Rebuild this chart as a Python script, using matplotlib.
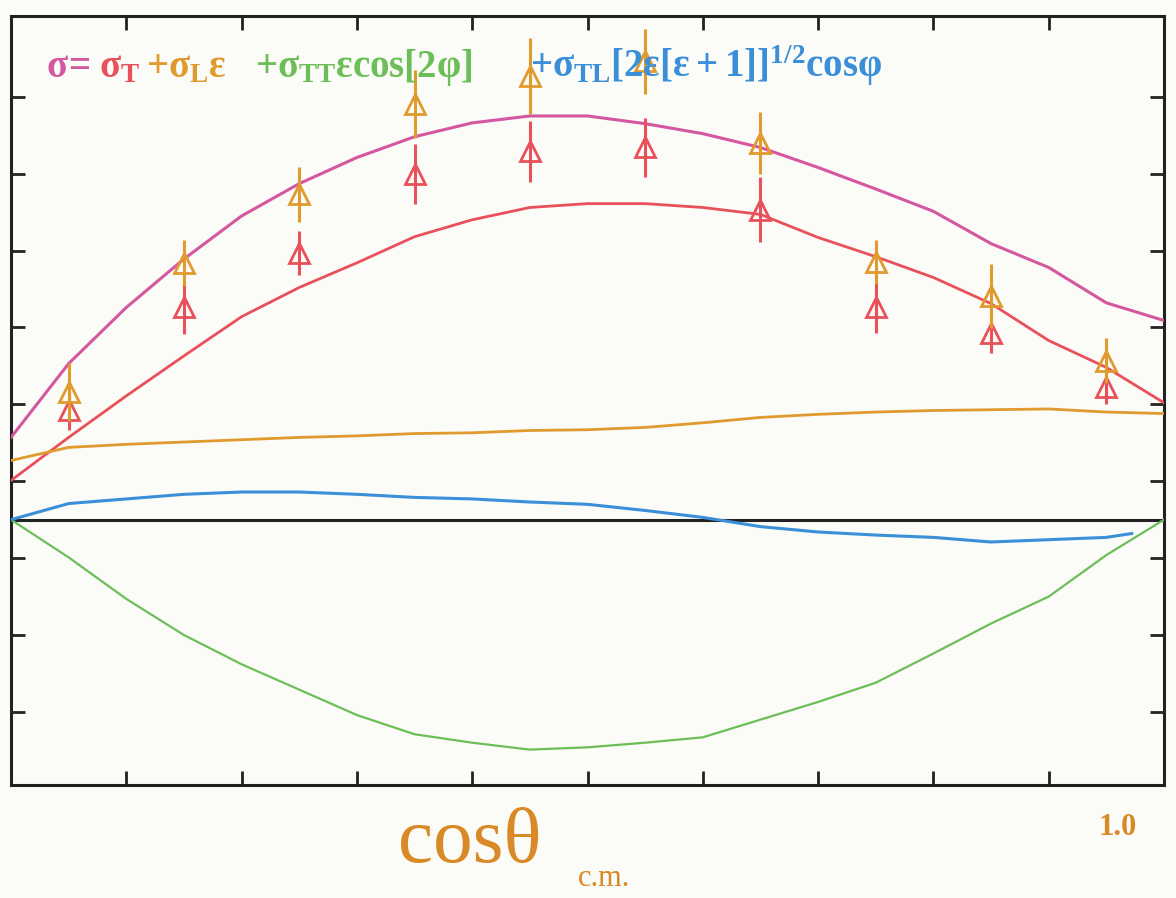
import numpy as np
import matplotlib.pyplot as plt

plt.rcParams['font.family'] = ['Liberation Serif', 'DejaVu Serif']
plt.rcParams['mathtext.fontset'] = 'custom'
plt.rcParams['mathtext.rm'] = 'Liberation Serif:bold'
plt.rcParams['mathtext.it'] = 'Liberation Serif:bold'
plt.rcParams['mathtext.bf'] = 'Liberation Serif:bold'

# model curves vs cos(theta_cm)
cos_grid = [-1.0, -0.9, -0.8, -0.7, -0.6, -0.5, -0.4, -0.3, -0.2, -0.1, 0.0,
            0.1, 0.2, 0.3, 0.4, 0.5, 0.6, 0.7, 0.8, 0.9, 1.0]
sig_total = [1.07, 2.03, 2.76, 3.39, 3.95, 4.37, 4.71, 4.98, 5.16, 5.25, 5.25,
             5.15, 5.02, 4.84, 4.58, 4.30, 4.01, 3.59, 3.28, 2.82, 2.59]
sig_T = [0.51, 1.07, 1.61, 2.13, 2.64, 3.02, 3.34, 3.68, 3.90, 4.06, 4.11,
         4.11, 4.06, 3.97, 3.67, 3.42, 3.15, 2.81, 2.33, 1.98, 1.52]
sig_L = [0.77, 0.94, 0.98, 1.01, 1.04, 1.07, 1.09, 1.12, 1.13, 1.16, 1.17,
         1.20, 1.26, 1.33, 1.37, 1.40, 1.42, 1.43, 1.44, 1.40, 1.38]
sig_TT = [0.0, -0.49, -1.03, -1.50, -1.88, -2.21, -2.54, -2.79, -2.90, -2.99, -2.96,
          -2.90, -2.83, -2.60, -2.37, -2.12, -1.74, -1.35, -1.00, -0.46, 0.0]
tl_x = [-1.0, -0.9, -0.8, -0.7, -0.6, -0.5, -0.4, -0.3, -0.2, -0.1, 0.0,
        0.1, 0.2, 0.3, 0.4, 0.5, 0.6, 0.7, 0.8, 0.9, 0.944]
sig_TL = [0.0, 0.21, 0.27, 0.33, 0.36, 0.36, 0.33, 0.29, 0.27, 0.23, 0.20,
          0.12, 0.03, -0.09, -0.16, -0.20, -0.23, -0.29, -0.26, -0.23, -0.18]

# measured points
pt_x = [-0.9, -0.7, -0.5, -0.3, -0.1, 0.1, 0.3, 0.5, 0.7, 0.9]
orange_y = [1.66, 3.34, 4.23, 5.41, 5.77, 5.96, 4.90, 3.35, 2.91, 2.07]
orange_err = [0.38, 0.30, 0.36, 0.44, 0.49, 0.42, 0.40, 0.29, 0.42, 0.29]
red_y = [1.43, 2.76, 3.47, 4.49, 4.79, 4.84, 4.03, 2.76, 2.43, 1.72]
red_err = [0.26, 0.35, 0.29, 0.39, 0.40, 0.39, 0.42, 0.33, 0.26, 0.22]

xticks = [-0.8, -0.6, -0.4, -0.2, 0.0, 0.2, 0.4, 0.6, 0.8]
yticks = [-2.5, -1.5, -0.5, 0.5, 1.5, 2.5, 3.5, 4.5, 5.5]

c_mag = '#d4579f'
c_red = '#e8505a'
c_org = '#e09a2e'
c_grn = '#6cbf58'
c_blu = '#3b8fd9'
c_lab = '#d98a26'

bg = '#fbfbf8'
fig = plt.figure(figsize=(11.76, 8.98), dpi=100, facecolor=bg)
ax = fig.add_axes([11/1176, 113/898, 1153/1176, 769/898])
ax.set_facecolor(bg)

ax.axhline(0, color='#222222', lw=2.2, zorder=2)
ax.plot(cos_grid, sig_total, color=c_mag, lw=2.2, zorder=3)
ax.plot(cos_grid, sig_T, color=c_red, lw=2.0, zorder=3)
ax.plot(cos_grid, sig_L, color=c_org, lw=2.0, zorder=3)
ax.plot(cos_grid, sig_TT, color=c_grn, lw=1.6, zorder=3)
ax.plot(tl_x, sig_TL, color=c_blu, lw=2.2, zorder=3)

ax.errorbar(pt_x, red_y, yerr=red_err, fmt='^', color=c_red, mfc='none',
            ms=14, mew=2, elinewidth=2.2, capsize=0, zorder=4)
ax.errorbar(pt_x, orange_y, yerr=orange_err, fmt='^', color=c_org, mfc='none',
            ms=14, mew=2, elinewidth=2.2, capsize=0, zorder=5)

ax.set_xlim(-1, 1)
ax.set_ylim(-3.45, 6.55)
ax.set_xticks(xticks)
ax.set_yticks(yticks)
ax.tick_params(direction='in', length=10, width=2, top=True, right=True,
               labelbottom=False, labelleft=False, color='#222222')
for s in ax.spines.values():
    s.set_linewidth(2.2)
    s.set_color('#222222')

# formula, one colour per term
fy = (785 - 77) / 769
fs = 28
terms = [
    (46, r'$\sigma\!=$', c_mag),
    (99, r'$\sigma_{\rm T}$', c_red),
    (146, r'$+\sigma_{\rm L}\varepsilon$', c_org),
    (255, r'$+\sigma_{\rm TT}\varepsilon{\rm cos}[2\varphi]$', c_grn),
    (530, r'$+\sigma_{\rm TL}[2\varepsilon[\varepsilon+1]]^{1/2}{\rm cos}\varphi$', c_blu),
]
for px, txt, col in terms:
    ax.text((px - 11) / 1153, fy, txt, color=col, fontsize=fs,
            transform=ax.transAxes, va='baseline', zorder=6)

fig.text(1118 / 1176, (898 - 835) / 898, '1.0', color=c_lab, fontsize=22,
         ha='center', va='baseline', fontweight='bold')
fig.text(398 / 1176, (898 - 862) / 898, 'cosθ', color=c_lab, fontsize=57,
         ha='left', va='baseline')
fig.text(578 / 1176, (898 - 886) / 898, 'c.m.', color=c_lab, fontsize=22,
         ha='left', va='baseline')

fig.savefig('out.png', dpi=100, facecolor=bg)
